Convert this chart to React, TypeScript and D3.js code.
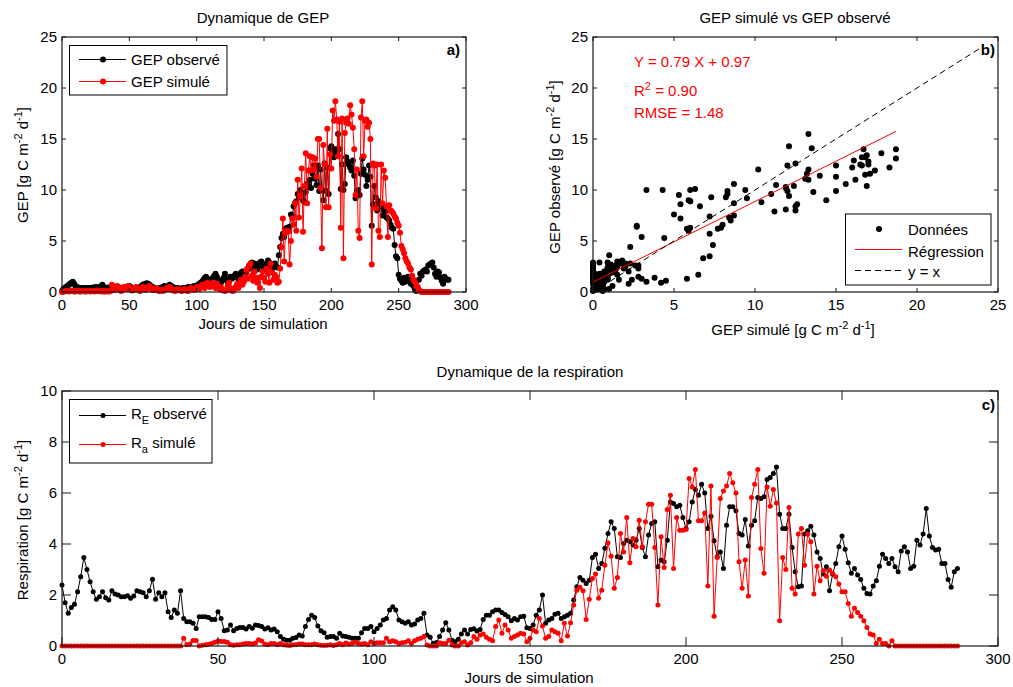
import React from "react";
import * as d3 from "d3";

// ---------- DATA ----------
// GEP observé, one value per simulation day (0..287)
const gepObserved = [
  0.1, 0.3, 0.4, 0.5, 0.6, 0.7, 0.8, 0.9, 1.0, 0.8,
  0.6, 0.5, 0.45, 0.4, 0.4, 0.35, 0.4, 0.4, 0.35, 0.4,
  0.4, 0.35, 0.4, 0.45, 0.4, 0.5, 0.45, 0.4, 0.5, 0.6,
  0.7, 0.5, 0.4, 0.4, 0.45, 0.3, 0.35, 0.3, 0.4, 0.5,
  0.35, 0.3, 0.35, 0.4, 0.3, 0.25, 0.4, 0.45, 0.5, 0.55,
  0.6, 0.5, 0.4, 0.35, 0.4, 0.3, 0.35, 0.4, 0.5, 0.6,
  0.7, 0.75, 0.8, 0.85, 0.8, 0.7, 0.6, 0.5, 0.45, 0.4,
  0.35, 0.3, 0.35, 0.4, 0.45, 0.5, 0.6, 0.55, 0.5, 0.6,
  0.7, 0.6, 0.5, 0.45, 0.4, 0.35, 0.4, 0.35, 0.3, 0.35,
  0.4, 0.35, 0.4, 0.45, 0.5, 0.45, 0.4, 0.5, 0.6, 0.55,
  0.6, 0.7, 0.8, 0.9, 1.0, 1.2, 1.4, 1.5, 1.3, 1.1,
  1.0, 1.2, 1.4, 1.6, 1.8, 1.5, 1.2, 1.0, 0.9, 1.1,
  1.4, 1.8, 1.3, 1.0, 1.2, 1.5, 1.3, 1.4, 1.6, 1.8,
  1.5, 1.3, 1.6, 1.9, 2.0, 1.8, 1.7, 2.0, 2.3, 2.6,
  2.3, 2.9, 2.7, 2.8, 2.4, 2.2, 2.6, 2.9, 3.0, 2.5,
  2.2, 2.4, 2.8, 3.1, 2.9, 2.6, 2.3, 2.4, 2.8, 2.5,
  2.4, 3.6, 4.4, 5.3, 5.7, 5.4, 6.2, 6.3, 6.0, 6.4,
  7.6, 7.4, 8.4, 8.7, 8.9, 9.6, 9.3, 10.0, 9.4, 9.0,
  8.8, 9.8, 10.6, 10.3, 11.0, 10.2, 11.6, 12.4, 11.1, 10.5,
  12.4, 9.9, 12.0, 10.0, 9.0, 12.6, 9.9, 12.2, 9.6, 14.1,
  14.3, 13.6, 13.2, 14.0, 13.4, 15.5, 14.0, 10.1, 12.5, 10.0,
  10.6, 13.2, 12.8, 12.5, 12.2, 11.9, 12.9, 11.4, 9.2, 9.9,
  10.0, 9.5, 11.6, 13.1, 12.0, 11.5, 10.4, 11.0, 12.4, 11.3,
  6.5, 8.6, 10.4, 9.3, 8.0, 8.9, 8.6, 8.4, 7.5, 8.1,
  7.9, 7.3, 7.2, 7.0, 6.6, 6.3, 6.2, 4.6, 3.5, 3.3,
  1.7, 1.3, 1.1, 0.9, 1.4, 1.0, 1.3, 1.5, 1.2, 0.8,
  1.2, 0.6, 0.3, 0.1, 0.5, 1.2, 1.8, 1.6, 2.0, 2.1,
  2.2, 2.0, 2.6, 2.7, 2.8, 2.9, 2.4, 1.8, 1.5, 2.0,
  1.9, 1.4, 1.1, 0.8, 1.5, 1.3, 1.2, 1.2,
];

// GEP simulé
const gepSimulated = [
  0.0, 0.05, 0.05, 0.1, 0.1, 0.05, 0.1, 0.15, 0.1, 0.05,
  0.05, 0.1, 0.1, 0.05, 0.05, 0.1, 0.1, 0.05, 0.05, 0.1,
  0.1, 0.05, 0.1, 0.1, 0.05, 0.1, 0.15, 0.1, 0.1, 0.05,
  0.1, 0.05, 0.05, 0.1, 0.05, 0.05, 0.1, 0.7, 0.3, 0.2,
  0.4, 0.6, 0.5, 0.2, 0.1, 0.3, 0.5, 0.4, 0.3, 0.6,
  0.5, 0.3, 0.15, 0.2, 0.4, 0.5, 0.3, 0.2, 0.1, 0.3,
  0.5, 0.4, 0.2, 0.3, 0.5, 0.6, 0.4, 0.2, 0.2, 0.3,
  0.4, 0.2, 0.1, 0.15, 0.2, 0.1, 0.2, 0.3, 0.4, 0.3,
  0.5, 0.4, 0.2, 0.15, 0.1, 0.2, 0.3, 0.2, 0.15, 0.1,
  0.2, 0.3, 0.2, 0.1, 0.15, 0.3, 0.4, 0.3, 0.2, 0.3,
  0.5, 0.4, 0.3, 0.5, 0.7, 0.6, 0.4, 0.8, 0.9, 0.6,
  0.5, 0.7, 0.9, 0.6, 0.4, 0.8, 0.5, 0.3, 0.5, 0.2,
  0.15, 0.1, 0.2, 0.6, 0.9, 0.4, 0.15, 0.1, 0.3, 0.5,
  0.8, 0.4, 0.9, 1.2, 0.7, 1.0, 1.5, 2.2, 1.3, 2.6,
  2.8, 1.6, 1.1, 2.0, 1.4, 0.9, 1.4, 0.4, 1.5, 2.0,
  1.4, 1.0, 2.3, 1.8, 0.9, 2.8, 1.9, 1.2, 1.7, 1.5,
  0.9, 1.0, 2.3, 4.4, 7.2, 3.0, 5.8, 6.0, 5.9, 2.7,
  5.0, 7.2, 6.6, 8.7, 6.0, 11.0, 7.3, 9.4, 12.1, 5.9,
  10.4, 13.6, 8.7, 11.9, 13.3, 11.9, 13.2, 12.0, 13.1, 11.3,
  15.0, 15.0, 10.2, 4.3, 14.4, 12.5, 8.3, 16.0, 8.3, 13.5,
  12.1, 17.8, 16.8, 18.7, 16.9, 13.3, 16.7, 6.3, 17.0, 3.3,
  15.6, 16.6, 17.0, 16.5, 18.3, 17.4, 16.1, 14.0, 9.5, 12.0,
  6.0, 5.3, 17.1, 18.7, 13.3, 16.8, 16.9, 16.2, 16.6, 15.0,
  2.7, 12.6, 12.4, 8.2, 12.5, 6.0, 5.4, 12.5, 8.7, 11.9,
  11.2, 8.4, 5.4, 8.5, 8.0, 7.9, 7.7, 7.4, 7.2, 6.8,
  6.5, 5.8, 4.5, 4.2, 3.8, 3.3, 3.0, 2.8, 2.4, 2.2,
  1.6, 1.2, 1.0, 0.6, 0.5, 0.2, 0.1, 0, 0, 0,
  0, 0, 0, 0, 0, 0, 0, 0, 0, 0,
  0, 0, 0, 0, 0, 0, 0, 0,
];

// R_E observé
const reObserved = [
  2.39, 1.70, 1.28, 1.51, 1.64, 2.13, 2.72, 3.47, 3.00, 2.52,
  2.13, 1.83, 1.93, 2.13, 1.89, 1.80, 2.17, 2.04, 2.00, 1.93,
  1.93, 1.97, 1.87, 1.96, 2.17, 2.13, 2.09, 1.93, 2.17, 2.62,
  1.83, 2.09, 1.93, 2.09, 1.34, 1.12, 1.41, 1.28, 2.17, 1.08,
  0.95, 0.95, 0.89, 0.69, 1.15, 1.15, 1.15, 1.12, 1.04, 1.04,
  1.34, 1.08, 0.60, 0.63, 0.82, 0.60, 0.69, 0.73, 0.73, 0.67,
  0.76, 0.70, 0.82, 0.80, 0.76, 0.67, 0.72, 0.63, 0.67, 0.56,
  0.37, 0.26, 0.23, 0.23, 0.30, 0.33, 0.43, 0.39, 0.76, 1.04,
  1.21, 1.12, 0.78, 0.60, 0.52, 0.34, 0.37, 0.37, 0.30, 0.50,
  0.39, 0.37, 0.34, 0.30, 0.30, 0.30, 0.52, 0.69, 0.69, 0.76,
  0.56, 0.69, 0.82, 1.02, 1.08, 1.41, 1.54, 1.41, 1.02, 0.95,
  0.89, 0.95, 0.82, 0.86, 1.02, 1.08, 1.28, 0.43, 0.34, 0.10,
  0.14, 0.37, 0.63, 0.91, 0.63, 0.23, 0.17, 0.26, 0.47, 0.63,
  0.47, 0.65, 0.68, 0.59, 0.65, 1.04, 1.21, 1.21, 1.34, 1.41,
  1.41, 1.31, 1.24, 1.15, 0.99, 1.08, 1.02, 1.15, 1.17, 0.72,
  0.69, 0.82, 1.21, 1.41, 2.00, 0.89, 1.02, 1.08, 1.25, 1.28,
  1.08, 1.15, 1.21, 1.28, 1.80, 2.32, 2.69, 2.58, 2.45, 2.58,
  3.47, 3.60, 3.04, 3.24, 3.83, 4.41, 4.87, 4.61, 3.50, 3.47,
  4.02, 4.15, 4.09, 3.96, 4.15, 4.61, 3.86, 3.50, 4.35, 4.80,
  4.87, 3.11, 3.37, 3.30, 4.15, 5.65, 5.59, 5.46, 5.52, 5.04,
  4.61, 4.87, 5.65, 6.14, 5.91, 6.34, 6.00, 4.61, 5.09, 4.13,
  3.50, 3.69, 3.04, 4.74, 5.46, 5.46, 5.30, 4.41, 4.35, 4.96,
  3.92, 4.74, 4.91, 5.82, 5.78, 5.85, 6.53, 6.61, 6.76, 7.02,
  5.17, 4.61, 4.61, 5.17, 3.86, 2.91, 2.32, 2.35, 4.39, 4.52,
  4.70, 4.35, 3.69, 3.43, 2.82, 3.11, 2.17, 2.82, 3.24, 3.89,
  4.31, 3.79, 3.26, 2.85, 3.04, 2.78, 2.61, 2.26, 2.06, 2.04,
  2.35, 2.56, 3.13, 3.60, 3.43, 3.24, 3.43, 3.11, 2.91, 3.73,
  3.89, 3.69, 3.04, 3.13, 4.15, 3.96, 4.39, 5.39, 4.31, 3.86,
  3.76, 3.79, 3.24, 3.24, 2.61, 2.30, 2.91, 3.04,
];

// R_a simulé
const raSimulated = [
  0, 0, 0, 0, 0, 0, 0, 0, 0, 0,
  0, 0, 0, 0, 0, 0, 0, 0, 0, 0,
  0, 0, 0, 0, 0, 0, 0, 0, 0, 0,
  0, 0, 0, 0, 0, 0, 0, 0, 0, 0.30,
  0.05, 0.08, 0.22, 0.22, 0.00, 0.03, 0.05, 0.07, 0.10, 0.15,
  0.20, 0.18, 0.18, 0.15, 0.05, 0.03, 0.05, 0.05, 0.08, 0.10,
  0.10, 0.08, 0.12, 0.25, 0.20, 0.08, 0.05, 0.10, 0.10, 0.05,
  0.10, 0.05, 0.03, 0.02, 0.05, 0.05, 0.08, 0.08, 0.05, 0.05,
  0.05, 0.08, 0.05, 0.03, 0.02, 0.03, 0.05, 0.02, 0.05, 0.10,
  0.05, 0.12, 0.08, 0.10, 0.15, 0.10, 0.08, 0.10, 0.05, 0.17,
  0.10, 0.13, 0.13, 0.13, 0.30, 0.17, 0.21, 0.17, 0.10, 0.13,
  0.15, 0.21, 0.10, 0.21, 0.26, 0.30, 0.37, 0.04, 0, 0,
  0, 0.13, 0.10, 0.10, 0.23, 0.04, 0, 0, 0.13, 0.17,
  0.04, 0.13, 0.37, 0.26, 0.43, 0.47, 0.34, 0.26, 0.21, 0.76,
  1.02, 0.50, 0.82, 0.63, 0.30, 0.37, 0.43, 0.50, 0.47, 0.17,
  0.30, 0.63, 0.56, 1.08, 0.78, 0.30, 0.37, 0.63, 0.56, 0.50,
  0.21, 0.89, 0.39, 0.91, 1.61, 2.19, 2.30, 2.17, 1.04, 1.83,
  2.65, 2.82, 1.87, 2.19, 3.17, 4.05, 3.52, 2.26, 2.69, 4.41,
  3.69, 5.04, 3.26, 4.22, 3.89, 4.93, 3.89, 4.87, 5.56, 5.56,
  3.86, 1.61, 4.28, 3.08, 5.35, 5.91, 3.04, 5.04, 4.54, 4.54,
  4.57, 6.57, 6.24, 6.92, 4.91, 4.91, 5.22, 2.35, 6.27, 1.17,
  3.47, 5.78, 6.08, 6.27, 6.76, 6.40, 6.00, 3.30, 2.26, 3.37,
  1.96, 5.82, 6.34, 6.92, 3.82, 2.85, 6.24, 5.48, 6.14, 5.61,
  0.99, 3.47, 3.00, 5.43, 2.26, 2.04, 4.39, 4.61, 3.17, 4.39,
  4.09, 2.04, 3.13, 2.56, 2.95, 2.74, 2.98, 2.85, 2.72, 2.43,
  2.13, 2.13, 1.67, 1.17, 1.48, 1.31, 1.17, 0.99, 0.73, 0.47,
  0.43, 0.10, 0.26, 0.10, 0.10, 0.00, 0.21, 0, 0, 0,
  0, 0, 0, 0, 0, 0, 0, 0, 0, 0,
  0, 0, 0, 0, 0, 0, 0, 0,
];

const dayTicks = [0, 50, 100, 150, 200, 250, 300];
const gepTicks = [0, 5, 10, 15, 20, 25];
const respTicks = [0, 2, 4, 6, 8, 10];

const regSlope = 0.79;
const regIntercept = 0.97;
const identityEnd = 24;
const eqText = "Y = 0.79 X + 0.97";
const r2Text = " = 0.90";
const rmseText = "RMSE = 1.48";

// ---------- drawing ----------
const FONT = "'Liberation Sans', Arial, Helvetica, sans-serif";
const FS = 15;
const RED = "#ff0000";

const days = gepObserved.map((_, i) => i);

function Frame({ x, y, xTicks, yTicks, tickLen }: any) {
  const [x0, x1] = x.range();
  const [yb, yt] = y.range();
  return (
    <g>
      <rect x={x0} y={yt} width={x1 - x0} height={yb - yt} fill="none" stroke="#1a1a1a" strokeWidth={1.2} />
      {xTicks.map((t: number) => (
        <g key={"x" + t}>
          <line x1={x(t)} x2={x(t)} y1={yb} y2={yb - tickLen} stroke="#1a1a1a" />
          <line x1={x(t)} x2={x(t)} y1={yt} y2={yt + tickLen} stroke="#1a1a1a" />
          <text x={x(t)} y={yb + 18} textAnchor="middle" fontSize={FS}>{t}</text>
        </g>
      ))}
      {yTicks.map((t: number) => (
        <g key={"y" + t}>
          <line x1={x0} x2={x0 + tickLen} y1={y(t)} y2={y(t)} stroke="#1a1a1a" />
          <line x1={x1} x2={x1 - tickLen} y1={y(t)} y2={y(t)} stroke="#1a1a1a" />
          <text x={x0 - 5} y={y(t) + 5} textAnchor="end" fontSize={FS}>{t}</text>
        </g>
      ))}
    </g>
  );
}

function Series({ xs, ys, x, y, color, r }: any) {
  const line = d3
    .line<number>()
    .x((_, i) => x(xs[i]))
    .y((v) => y(v));
  return (
    <g>
      <path d={line(ys) || ""} fill="none" stroke={color} strokeWidth={1} />
      {ys.map((v: number, i: number) => (
        <circle key={i} cx={x(xs[i])} cy={y(v)} r={r} fill={color} />
      ))}
    </g>
  );
}

function Units() {
  return (
    <>
      {" [g C m"}
      <tspan dy={-6} fontSize={11}>-2</tspan>
      <tspan dy={6}> d</tspan>
      <tspan dy={-6} fontSize={11}>-1</tspan>
      <tspan dy={6}>]</tspan>
    </>
  );
}

export default function App() {
  const xA = d3.scaleLinear().domain([0, 300]).range([62, 466]);
  const yA = d3.scaleLinear().domain([0, 25]).range([292, 37]);
  const xB = d3.scaleLinear().domain([0, 25]).range([593, 998]);
  const yB = d3.scaleLinear().domain([0, 25]).range([292, 37]);
  const xC = d3.scaleLinear().domain([0, 300]).range([62, 998]);
  const yC = d3.scaleLinear().domain([0, 10]).range([646, 391]);

  const simMax = d3.max(gepSimulated) as number;
  const regLine = d3
    .line<number>()
    .x((v) => xB(v))
    .y((v) => yB(regSlope * v + regIntercept));

  return (
    <svg
      width={1013}
      height={687}
      style={{ position: "absolute", left: 0, top: 0, background: "#fff" }}
      fontFamily={FONT}
      fill="#000"
    >
      <rect x={0} y={0} width={1013} height={687} fill="#fff" />

      {/* ---------- Panel a ---------- */}
      <text x={263} y={23} textAnchor="middle" fontSize={FS}>Dynamique de GEP</text>
      <Series xs={days} ys={gepObserved} x={xA} y={yA} color="#000" r={3} />
      <Series xs={days} ys={gepSimulated} x={xA} y={yA} color={RED} r={3} />
      <Frame x={xA} y={yA} xTicks={dayTicks} yTicks={gepTicks} tickLen={4} />
      <text x={263} y={329} textAnchor="middle" fontSize={FS}>Jours de simulation</text>
      <text transform="translate(28,165) rotate(-90)" textAnchor="middle" fontSize={FS}>
        GEP<Units />
      </text>
      <text x={460} y={55} textAnchor="end" fontSize={FS} fontWeight="bold">a)</text>
      <g>
        <rect x={69.5} y={45.5} width={157.5} height={49.5} fill="#fff" stroke="#000" />
        <line x1={79} x2={126} y1={59.5} y2={59.5} stroke="#000" />
        <circle cx={103} cy={59.5} r={3} fill="#000" />
        <text x={131} y={65} fontSize={FS}>GEP observé</text>
        <line x1={79} x2={126} y1={81.5} y2={81.5} stroke={RED} />
        <circle cx={103} cy={81.5} r={3} fill={RED} />
        <text x={131} y={87} fontSize={FS}>GEP simulé</text>
      </g>

      {/* ---------- Panel b ---------- */}
      <text x={795} y={23} textAnchor="middle" fontSize={FS}>GEP simulé vs GEP observé</text>
      {gepSimulated.map((s, i) => (
        <circle key={i} cx={xB(s)} cy={yB(gepObserved[i])} r={3} fill="#000" />
      ))}
      <path d={regLine([0, simMax]) || ""} stroke={RED} strokeWidth={1} fill="none" />
      <line
        x1={xB(0)} y1={yB(0)} x2={xB(identityEnd)} y2={yB(identityEnd)}
        stroke="#000" strokeWidth={1} strokeDasharray="6,4"
      />
      <Frame x={xB} y={yB} xTicks={gepTicks} yTicks={gepTicks} tickLen={4} />
      <text x={634} y={67} fontSize={FS} fill={RED}>{eqText}</text>
      <text x={634} y={96} fontSize={FS} fill={RED}>
        R<tspan dy={-6} fontSize={11}>2</tspan><tspan dy={6}>{r2Text}</tspan>
      </text>
      <text x={634} y={118} fontSize={FS} fill={RED}>{rmseText}</text>
      <text x={995} y={55} textAnchor="end" fontSize={FS} fontWeight="bold">b)</text>
      <text x={793} y={335} textAnchor="middle" fontSize={FS}>
        GEP simulé<Units />
      </text>
      <text transform="translate(560,167) rotate(-90)" textAnchor="middle" fontSize={FS}>
        GEP observé<Units />
      </text>
      <g>
        <rect x={845.5} y={214} width={145.5} height={71} fill="#fff" stroke="#000" />
        <circle cx={879} cy={229} r={3} fill="#000" />
        <text x={908} y={234.5} fontSize={FS}>Données</text>
        <line x1={855} x2={902} y1={249.5} y2={249.5} stroke={RED} />
        <text x={908} y={256.5} fontSize={FS}>Régression</text>
        <line x1={855} x2={902} y1={270.5} y2={270.5} stroke="#000" strokeDasharray="6,4" />
        <text x={908} y={277} fontSize={FS}>y = x</text>
      </g>

      {/* ---------- Panel c ---------- */}
      <text x={530} y={377} textAnchor="middle" fontSize={FS}>Dynamique de la respiration</text>
      <Series xs={days} ys={reObserved} x={xC} y={yC} color="#000" r={2.5} />
      <Series xs={days} ys={raSimulated} x={xC} y={yC} color={RED} r={2.5} />
      <Frame x={xC} y={yC} xTicks={dayTicks} yTicks={respTicks} tickLen={9} />
      <text x={529} y={683} textAnchor="middle" fontSize={FS}>Jours de simulation</text>
      <text transform="translate(28,520) rotate(-90)" textAnchor="middle" fontSize={FS}>
        Respiration<Units />
      </text>
      <text x={995} y={410} textAnchor="end" fontSize={FS} fontWeight="bold">c)</text>
      <g>
        <rect x={69.5} y={399.5} width={142.5} height={63.5} fill="#fff" stroke="#000" />
        <line x1={79} x2={126} y1={415.5} y2={415.5} stroke="#000" />
        <circle cx={103} cy={415.5} r={2.5} fill="#000" />
        <text x={131} y={419} fontSize={FS}>
          R<tspan dy={5} fontSize={11}>E</tspan><tspan dy={-5}> observé</tspan>
        </text>
        <line x1={79} x2={126} y1={444.5} y2={444.5} stroke={RED} />
        <circle cx={103} cy={444.5} r={2.5} fill={RED} />
        <text x={131} y={448} fontSize={FS}>
          R<tspan dy={5} fontSize={11}>a</tspan><tspan dy={-5}> simulé</tspan>
        </text>
      </g>
    </svg>
  );
}
